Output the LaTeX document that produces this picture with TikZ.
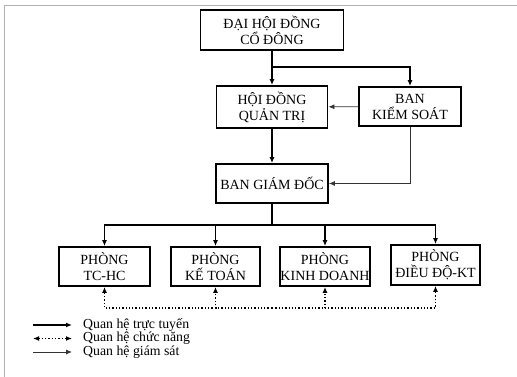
\documentclass[tikz,border=0pt]{standalone}
\usepackage{fontspec}
\setmainfont{Liberation Serif}
\usetikzlibrary{arrows.meta,positioning}

\begin{document}
\begin{tikzpicture}[
  x=1pt, y=-1pt,
  box/.style={draw, line width=1.8pt, align=center, inner sep=0pt,
    font=\fontsize{14}{16}\selectfont},
  line/.style={-{Latex[length=6pt,width=5pt]}, line width=1.4pt},
  sup/.style={-{Latex[length=6pt,width=5pt]}, line width=0.8pt, black!80},
  func/.style={-{Latex[length=6pt,width=5pt]}, line width=1.3pt, dotted},
  legend/.style={anchor=west, inner sep=0pt, font=\fontsize{13.8}{16}\selectfont},
]
  \useasboundingbox (0,0) rectangle (517,377);
  % Frame
  \draw[black!30, line width=0.8pt] (4,5) rectangle (530,390);

  % Top levels
  \node[box, minimum width=143pt, minimum height=40pt] (dhdcd) at (272,30)
    {ĐẠI HỘI ĐỒNG\\CỔ ĐÔNG};
  \node[box, minimum width=111pt, minimum height=42pt] (hdqt) at (272,107)
    {HỘI ĐỒNG\\QUẢN TRỊ};
  \node[box, minimum width=102pt, minimum height=39pt] (bks) at (410,106.5)
    {BAN\\KIỂM SOÁT};
  \node[box, minimum width=112pt, minimum height=39pt] (bgd) at (272,183.5)
    {BAN GIÁM ĐỐC};

  \coordinate (split) at (272,67);
  \draw[line] (dhdcd) -- (hdqt);
  \draw[line] (split) -| (bks);
  \draw[sup] (bks) -- (hdqt);
  \draw[line] (hdqt) -- (bgd);
  \draw[sup] (bks.south) |- (bgd.east);

  % Departments
  \node[box, minimum width=91pt, minimum height=39pt] (p1) at (104.5,266.5) {PHÒNG\\TC-HC};
  \node[box, minimum width=89pt, minimum height=39pt] (p2) at (215.5,266.5) {PHÒNG\\KẾ TOÁN};
  \node[box, minimum width=90pt, minimum height=39pt] (p3) at (325,266.5) {PHÒNG\\KINH DOANH};
  \node[box, minimum width=89pt, minimum height=40pt] (p4) at (435.5,265) {PHÒNG\\ĐIỀU ĐỘ-KT};

  \coordinate (bus) at (272,225);
  \coordinate (fbus) at (272,308);
  \foreach \p in {p1,p2,p3,p4} {
    \draw[line] (bgd.south) -- (bus) -| (\p.north);
    \draw[func] (fbus) -| (\p.south);
  }

  % Legend
  \node[legend] (leg1) at (83,325) {Quan hệ trực tuyến};
  \node[legend] (leg2) at (83,338.5) {Quan hệ chức năng};
  \node[legend] (leg3) at (83,352) {Quan hệ giám sát};
  \coordinate (l1a) at (33,325);   \coordinate (l1b) at (72,325);
  \coordinate (l2a) at (33,338.5); \coordinate (l2b) at (72,338.5);
  \coordinate (l3a) at (33,352);   \coordinate (l3b) at (72,352);
  \draw[line] (l1a) -- (l1b);
  \draw[func, {Latex[length=6pt,width=5pt]}-{Latex[length=6pt,width=5pt]}] (l2a) -- (l2b);
  \draw[sup] (l3a) -- (l3b);
\end{tikzpicture}
\end{document}
